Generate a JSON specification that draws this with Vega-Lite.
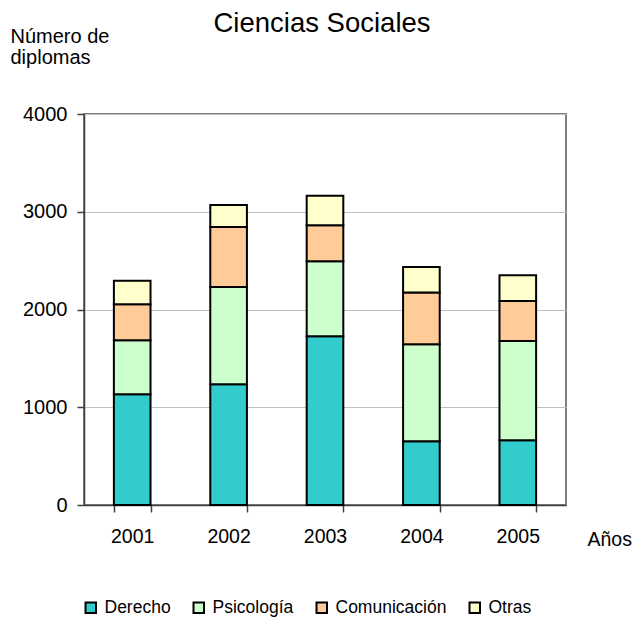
{
  "$schema": "https://vega.github.io/schema/vega-lite/v6.json",
  "width": 482,
  "height": 391,
  "autosize": "none",
  "padding": {"left": 84, "top": 114, "right": 70, "bottom": 114},
  "background": "white",
  "title": {
    "text": "Ciencias Sociales",
    "fontSize": 27.5,
    "fontWeight": "normal",
    "font": "Liberation Sans",
    "color": "black",
    "anchor": "middle",
    "frame": "group",
    "offset": 0,
    "dx": -3,
    "dy": 11
  },
  "config": {
    "font": "Liberation Sans",
    "view": {"stroke": "#808080", "strokeWidth": 2},
    "axis": {
      "labelFont": "Liberation Sans",
      "titleFont": "Liberation Sans",
      "labelColor": "black",
      "titleColor": "black",
      "domainColor": "#404040",
      "domainWidth": 1.5,
      "tickColor": "#404040",
      "tickWidth": 1.5
    }
  },
  "data": {
    "values": [
      {"anio": "2001", "carrera": "Derecho", "n": 1133, "orden": 1},
      {"anio": "2001", "carrera": "Psicología", "n": 553, "orden": 2},
      {"anio": "2001", "carrera": "Comunicación", "n": 368, "orden": 3},
      {"anio": "2001", "carrera": "Otras", "n": 239, "orden": 4},
      {"anio": "2002", "carrera": "Derecho", "n": 1235, "orden": 1},
      {"anio": "2002", "carrera": "Psicología", "n": 996, "orden": 2},
      {"anio": "2002", "carrera": "Comunicación", "n": 614, "orden": 3},
      {"anio": "2002", "carrera": "Otras", "n": 225, "orden": 4},
      {"anio": "2003", "carrera": "Derecho", "n": 1727, "orden": 1},
      {"anio": "2003", "carrera": "Psicología", "n": 767, "orden": 2},
      {"anio": "2003", "carrera": "Comunicación", "n": 369, "orden": 3},
      {"anio": "2003", "carrera": "Otras", "n": 300, "orden": 4},
      {"anio": "2004", "carrera": "Derecho", "n": 652, "orden": 1},
      {"anio": "2004", "carrera": "Psicología", "n": 993, "orden": 2},
      {"anio": "2004", "carrera": "Comunicación", "n": 528, "orden": 3},
      {"anio": "2004", "carrera": "Otras", "n": 263, "orden": 4},
      {"anio": "2005", "carrera": "Derecho", "n": 662, "orden": 1},
      {"anio": "2005", "carrera": "Psicología", "n": 1017, "orden": 2},
      {"anio": "2005", "carrera": "Comunicación", "n": 409, "orden": 3},
      {"anio": "2005", "carrera": "Otras", "n": 263, "orden": 4}
    ]
  },
  "mark": {"type": "bar", "stroke": "black", "strokeWidth": 2, "opacity": 1},
  "encoding": {
    "x": {
      "field": "anio",
      "type": "nominal",
      "scale": {"paddingInner": 0.62, "paddingOuter": 0.31},
      "axis": {
        "title": "Años",
        "titleFontSize": 19.5,
        "titleFontWeight": "normal",
        "titleAlign": "left",
        "titleBaseline": "alphabetic",
        "titleX": 503,
        "titleY": 40,
        "labelAngle": 0,
        "labelFontSize": 19.5,
        "labelPadding": 15,
        "tickSize": 7,
        "tickBand": "extent",
        "grid": false
      }
    },
    "y": {
      "field": "n",
      "type": "quantitative",
      "stack": "zero",
      "scale": {"domain": [0, 4000], "nice": false},
      "axis": {
        "values": [0, 1000, 2000, 3000, 4000],
        "format": "d",
        "title": ["Número de", "diplomas"],
        "titleFontSize": 20,
        "titleFontWeight": "normal",
        "titleAngle": 0,
        "titleAlign": "left",
        "titleBaseline": "top",
        "titleLineHeight": 21,
        "titleX": -74,
        "titleY": -88,
        "labelFontSize": 20,
        "labelPadding": 10,
        "tickSize": 7,
        "grid": true,
        "gridColor": "#c0c0c0",
        "gridWidth": 1
      }
    },
    "color": {
      "field": "carrera",
      "type": "nominal",
      "scale": {
        "domain": ["Derecho", "Psicología", "Comunicación", "Otras"],
        "range": ["#33CCCC", "#CCFFCC", "#FFCC99", "#FFFFCC"]
      },
      "legend": {
        "orient": "none",
        "legendX": -2,
        "legendY": 485,
        "direction": "horizontal",
        "title": null,
        "symbolType": "square",
        "symbolSize": 110,
        "symbolStrokeColor": "black",
        "symbolStrokeWidth": 2,
        "symbolOpacity": 1,
        "labelFontSize": 17.5,
        "labelFont": "Liberation Sans",
        "labelColor": "black",
        "labelOffset": 5,
        "columnPadding": 18
      }
    },
    "order": {"field": "orden", "type": "quantitative"}
  }
}
